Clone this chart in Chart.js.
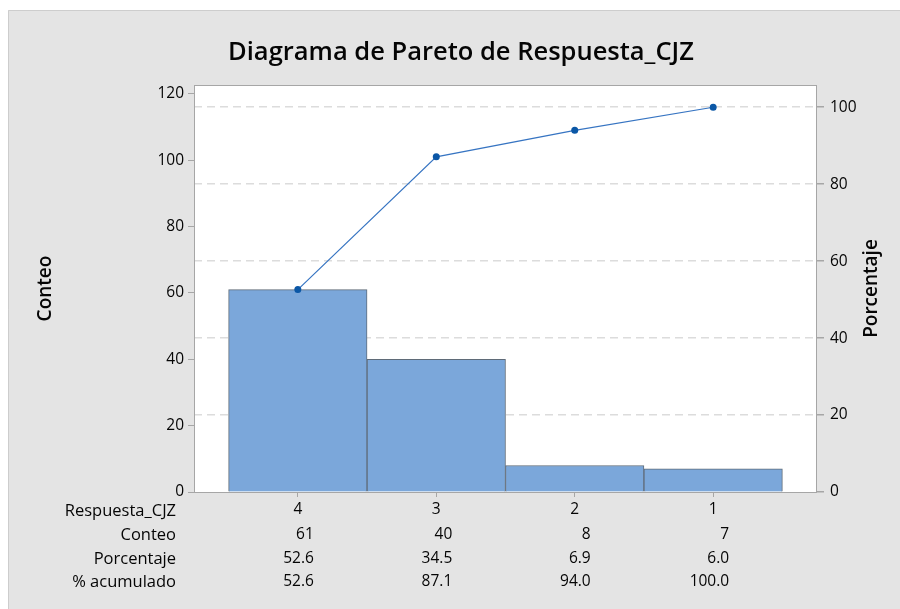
<!DOCTYPE html>
<html>
<head>
<meta charset="utf-8">
<script src="https://cdn.jsdelivr.net/npm/chart.js@4/dist/chart.umd.min.js"></script>
<style>
html,body{margin:0;padding:0;background:#fff;}
#wrap{position:absolute;left:0;top:0;width:900px;height:609px;}
</style>
</head>
<body>
<div id="wrap"><canvas id="c" width="900" height="609"></canvas></div>
<script>
// ---- data ----
const categories = ['4', '3', '2', '1'];
const counts = [61, 40, 8, 7];
const percents = ['52.6', '34.5', '6.9', '6.0'];
const cumPercents = ['52.6', '87.1', '94.0', '100.0'];
const cumValues = [52.6, 87.1, 94.0, 100.0];
const leftTicks = [0, 20, 40, 60, 80, 100, 120];
const rightTicks = [0, 20, 40, 60, 80, 100];
const rowLabels = ['Respuesta_CJZ', 'Conteo', 'Porcentaje', '% acumulado'];
const titleText = 'Diagrama de Pareto de Respuesta_CJZ';
const leftTitle = 'Conteo';
const rightTitle = 'Porcentaje';

const total = counts.reduce((a, b) => a + b, 0);
const leftMax = 122.7;
const rightMax = leftMax / total * 100;

const FONT = "'Open Sans', 'Noto Sans', sans-serif";
const TXT = '#050505';

const decor = {
  id: 'decor',
  beforeDraw(chart) {
    const ctx = chart.ctx, a = chart.chartArea;
    ctx.save();
    ctx.fillStyle = '#ffffff';
    ctx.fillRect(0, 0, chart.width, chart.height);
    ctx.fillStyle = '#e4e4e4';
    ctx.fillRect(8, 10, chart.width - 8, chart.height - 10);
    ctx.strokeStyle = '#cdcdcd';
    ctx.lineWidth = 1;
    ctx.beginPath();
    ctx.moveTo(8.5, chart.height); ctx.lineTo(8.5, 10.5); ctx.lineTo(chart.width, 10.5);
    ctx.stroke();
    ctx.fillStyle = '#ffffff';
    ctx.fillRect(a.left, a.top, a.right - a.left, a.bottom - a.top);
    ctx.restore();
  },
  afterDatasetsDraw(chart) {
    const ctx = chart.ctx, a = chart.chartArea;
    ctx.save();
    ctx.strokeStyle = '#a6a6a6';
    ctx.lineWidth = 1;
    ctx.strokeRect(Math.round(a.left) + 0.5, Math.round(a.top) + 0.5,
                   Math.round(a.right - a.left) - 1, Math.round(a.bottom - a.top));
    ctx.restore();
  },
  afterDraw(chart) {
    const ctx = chart.ctx, a = chart.chartArea, xs = chart.scales.x;
    ctx.save();
    // title
    ctx.fillStyle = TXT;
    ctx.font = "600 25.5px " + FONT;
    ctx.textAlign = 'center';
    ctx.textBaseline = 'middle';
    ctx.fillText(titleText, 461, 53);
    // right axis title (reads bottom-to-top)
    ctx.font = "600 19px " + FONT;
    ctx.translate(872, (a.top + a.bottom) / 2);
    ctx.rotate(-Math.PI / 2);
    ctx.fillText(rightTitle, 0, 0);
    ctx.setTransform(1, 0, 0, 1, 0, 0);
    // table rows
    ctx.fillStyle = TXT;
    ctx.textBaseline = 'middle';
    const rowY = [511, 535, 559, 582];
    ctx.textAlign = 'right';
    ctx.font = "16.5px " + FONT;
    rowLabels.forEach((t, i) => ctx.fillText(t, 176, rowY[i]));
    ctx.font = "15.5px " + FONT;
    const rows = [counts.map(String), percents, cumPercents];
    rows.forEach((r, ri) => {
      r.forEach((t, ci) => {
        ctx.fillText(t, xs.getPixelForValue(ci) + 16, rowY[ri + 1]);
      });
    });
    ctx.restore();
  }
};

new Chart(document.getElementById('c'), {
  type: 'bar',
  data: {
    datasets: [
      {
        type: 'line',
        data: cumValues.map((v, i) => ({ x: i, y: v })),
        yAxisID: 'y2',
        xAxisID: 'x',
        borderColor: '#3674c2',
        borderWidth: 1.2,
        pointRadius: 3.5,
        pointBackgroundColor: '#0b57a6',
        pointBorderColor: '#0b57a6',
        pointBorderWidth: 0,
        tension: 0,
        order: 0
      },
      {
        type: 'bar',
        data: counts.map((v, i) => ({ x: i, y: v })),
        yAxisID: 'y',
        xAxisID: 'x',
        backgroundColor: '#7ba7da',
        borderColor: '#5f6b78',
        borderWidth: 1,
        barPercentage: 1,
        categoryPercentage: 1,
        order: 1
      }
    ]
  },
  options: {
    responsive: false,
    animation: false,
    devicePixelRatio: 1,
    layout: { padding: { top: 85, left: 0, right: 0, bottom: 0 } },
    plugins: { legend: { display: false }, tooltip: { enabled: false }, title: { display: false } },
    scales: {
      x: {
        type: 'linear',
        position: 'bottom',
        offset: false,
        min: -0.75,
        max: 3.75,
        afterBuildTicks: s => { s.ticks = categories.map((c, i) => ({ value: i })); },
        afterFit: s => { s.height = 117; },
        ticks: {
          callback: v => categories[v],
          font: { family: FONT, size: 15.5 },
          color: TXT,
          padding: 3,
          maxRotation: 0,
          autoSkip: false
        },
        grid: { offset: false, drawOnChartArea: false, drawTicks: true, tickLength: 5, tickColor: '#a6a6a6' },
        border: { display: false }
      },
      y: {
        type: 'linear',
        position: 'left',
        min: 0,
        max: leftMax,
        afterBuildTicks: s => { s.ticks = leftTicks.map(v => ({ value: v })); },
        afterFit: s => { s.width = 194; },
        ticks: {
          font: { family: FONT, size: 15.5 },
          color: TXT,
          padding: 4
        },
        grid: { drawOnChartArea: false, drawTicks: true, tickLength: 6, tickColor: '#a6a6a6' },
        border: { display: false },
        title: {
          display: true,
          text: leftTitle,
          font: { family: FONT, size: 19, weight: '600' },
          color: TXT,
          padding: { top: 34, bottom: 0 }
        }
      },
      y2: {
        type: 'linear',
        position: 'right',
        min: 0,
        max: rightMax,
        afterBuildTicks: s => { s.ticks = rightTicks.map(v => ({ value: v })); },
        afterFit: s => { s.width = 83; },
        ticks: {
          font: { family: FONT, size: 15.5 },
          color: TXT,
          padding: 6
        },
        grid: {
          drawOnChartArea: true,
          drawTicks: true,
          tickLength: 7,
          tickColor: '#a6a6a6',
          color: ctx => (ctx.tick && ctx.tick.value === 0) ? 'rgba(0,0,0,0)' : '#dcdcdc',
          lineWidth: 1.5
        },
        border: { display: false, dash: [8, 5] }
      }
    }
  },
  plugins: [decor]
});
</script>
</body>
</html>
